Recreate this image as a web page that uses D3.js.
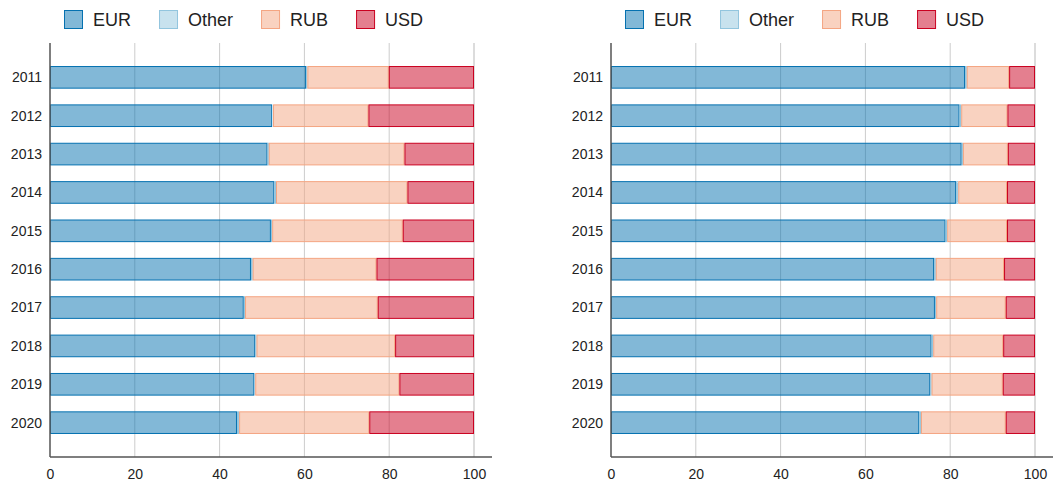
<!DOCTYPE html>
<html>
<head>
<meta charset="utf-8">
<script src="https://cdn.jsdelivr.net/npm/d3@7"></script>
<style>
  body { margin: 0; background: #fff; }
  svg { font-family: "Liberation Sans", Arial, sans-serif; }
</style>
</head>
<body>
<div id="chart"></div>
<script>
var years = ["2011", "2012", "2013", "2014", "2015", "2016", "2017", "2018", "2019", "2020"];
var keys = ["EUR", "Other", "RUB", "USD"];
var xTicks = [0, 20, 40, 60, 80, 100];

// left panel
var leftEUR   = [60.4, 52.4, 51.3, 52.9, 52.1, 47.4, 45.7, 48.4, 48.2, 44.1];
var leftOther = [0.3, 0.2, 0.3, 0.4, 0.3, 0.4, 0.3, 0.3, 0.2, 0.5];
var leftRUB   = [19.2, 22.5, 32.0, 31.0, 30.8, 29.2, 31.3, 32.7, 34.0, 30.7];
var leftUSD   = [20.1, 24.9, 16.4, 15.7, 16.8, 23.0, 22.7, 18.6, 17.6, 24.7];

// right panel
var rightEUR   = [83.5, 82.2, 82.7, 81.4, 78.9, 76.2, 76.4, 75.6, 75.3, 72.7];
var rightOther = [0.4, 0.4, 0.3, 0.5, 0.4, 0.4, 0.3, 0.4, 0.3, 0.4];
var rightRUB   = [10.0, 10.9, 10.6, 11.5, 14.1, 16.1, 16.4, 16.5, 16.8, 20.0];
var rightUSD   = [6.1, 6.5, 6.4, 6.6, 6.6, 7.3, 6.9, 7.5, 7.6, 6.9];

var strokeColors = ["#0571b0", "#92c5de", "#f4a582", "#ca0020"];

var w = 1056, h = 483;

var svg = d3.select("#chart").append("svg")
    .attr("width", w)
    .attr("height", h);

var color = d3.scaleOrdinal().domain(keys).range(strokeColors);

function buildRows(eur, other, rub, usd) {
  return years.map(function(y, i) {
    return {year: y, EUR: eur[i], Other: other[i], RUB: rub[i], USD: usd[i]};
  });
}

function drawPanel(offsetX, rows) {
  var g = svg.append("g").attr("transform", "translate(" + offsetX + ",0)");

  var x = d3.scaleLinear().domain([0, 100]).range([50, 474]);
  var y = d3.scaleBand().domain(years).range([43, 457])
      .paddingInner(0.41).paddingOuter(0.6);

  // grid
  g.append("g").selectAll("line")
    .data(xTicks.slice(1))
    .enter().append("line")
    .attr("x1", function(d) { return x(d); })
    .attr("x2", function(d) { return x(d); })
    .attr("y1", 43).attr("y2", 457)
    .attr("stroke", function(d) { return d === 100 ? "#dcdcdc" : "#cccccc"; })
    .attr("stroke-width", function(d) { return d === 100 ? 2 : 1; });

  var series = d3.stack().keys(keys)(rows);

  g.append("g").selectAll("g")
    .data(series)
    .enter().append("g")
    .attr("fill", function(d) { return color(d.key); })
    .attr("fill-opacity", 0.5)
    .attr("stroke", function(d) { return color(d.key); })
    .attr("stroke-width", 1)
    .selectAll("rect")
    .data(function(d) { return d; })
    .enter().append("rect")
    .attr("x", function(d) { return x(d[0]) + 0.5; })
    .attr("y", function(d) { return y(d.data.year) + 0.5; })
    .attr("width", function(d) { return Math.max(0, x(d[1]) - x(d[0]) - 1); })
    .attr("height", y.bandwidth() - 1);

  // y labels
  g.append("g").selectAll("text")
    .data(years)
    .enter().append("text")
    .attr("x", 42)
    .attr("y", function(d) { return y(d) + y.bandwidth() / 2; })
    .attr("dy", "0.35em")
    .attr("text-anchor", "end")
    .attr("font-size", 14)
    .attr("fill", "#222")
    .text(function(d) { return d; });

  // x axis
  var xAxis = d3.axisBottom(x).tickValues(xTicks).tickSize(0).tickPadding(12);
  var ax = g.append("g").attr("transform", "translate(0,457)").call(xAxis);
  ax.select(".domain").remove();
  ax.selectAll("text").attr("font-size", 14).attr("fill", "#222")
    .attr("font-family", "Liberation Sans, Arial, sans-serif");

  g.append("line")
    .attr("x1", 50).attr("x2", 492)
    .attr("y1", 457).attr("y2", 457)
    .attr("stroke", "#555").attr("stroke-width", 1.5);

  g.append("line")
    .attr("x1", 50).attr("x2", 50)
    .attr("y1", 43).attr("y2", 457)
    .attr("stroke", "#555").attr("stroke-width", 1.5);

  // legend
  var lg = g.append("g");
  var lx = 64;
  keys.forEach(function(k) {
    lg.append("rect")
      .attr("x", lx + 0.5).attr("y", 10.5)
      .attr("width", 18).attr("height", 18)
      .attr("fill", color(k)).attr("fill-opacity", 0.5)
      .attr("stroke", color(k)).attr("stroke-width", 1);
    var t = lg.append("text")
      .attr("x", lx + 29).attr("y", 26)
      .attr("font-size", 18).attr("fill", "#222")
      .text(k);
    lx = lx + 29 + t.node().getComputedTextLength() + 28;
  });
}

drawPanel(0, buildRows(leftEUR, leftOther, leftRUB, leftUSD));
drawPanel(561, buildRows(rightEUR, rightOther, rightRUB, rightUSD));
</script>
</body>
</html>
